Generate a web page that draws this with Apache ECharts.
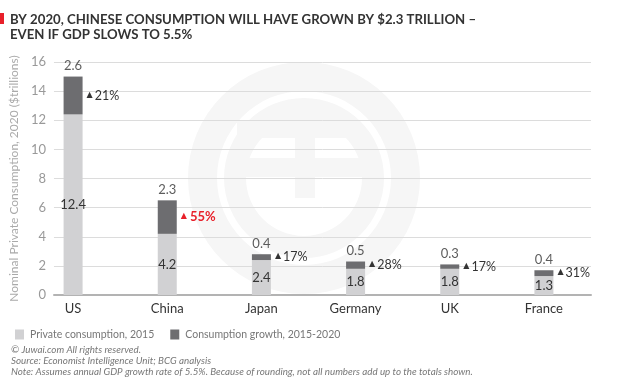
<!DOCTYPE html>
<html><head><meta charset="utf-8">
<script src="https://cdn.jsdelivr.net/npm/echarts@6/dist/echarts.min.js"></script>
<style>html,body{margin:0;padding:0;background:#fff}#c{width:619px;height:380px}</style>
</head><body><div id="c"></div>
<script>
const categories = ['US', 'China', 'Japan', 'Germany', 'UK', 'France'];
const base2015 = [12.4, 4.2, 2.4, 1.8, 1.8, 1.3];
const growth = [2.6, 2.3, 0.4, 0.5, 0.3, 0.4];
const growthPct = [21, 55, 17, 28, 17, 31];
const highlight = [false, true, false, false, false, false];
const yTicks = {min: 0, max: 16, interval: 2};
const totals = base2015.map((v, i) => +(v + growth[i]).toFixed(1));

const chart = echarts.init(document.getElementById('c'), null, {renderer: 'canvas'});
const FONT = 'Lato';
const wmColor = '#f6f6f6';
const cx = 304, cy = 178;
chart.setOption({
  animation: false,
  textStyle: {fontFamily: FONT},
  graphic: [
    {type: 'rect', left: 0, top: 13, shape: {width: 4, height: 11}, style: {fill: '#e8202a'}, z: 10},
    {type: 'text', left: 10, top: 12, z: 10, style: {text: 'BY 2020, CHINESE CONSUMPTION WILL HAVE GROWN BY $2.3 TRILLION –\nEVEN IF GDP SLOWS TO 5.5%', font: 'bold 13.2px Lato', fill: '#333', lineHeight: 15}},
    {type: 'text', left: 11, top: 345, z: 10, style: {text: '© Juwai.com All rights reserved.\nSource: Economist Intelligence Unit; BCG analysis\nNote: Assumes annual GDP growth rate of 5.5%. Because of rounding, not all numbers add up to the totals shown.', font: 'italic 9.8px Lato', fill: '#777', lineHeight: 10.6}},
    {type: 'ring', z: -10, shape: {cx: cx, cy: cy, r: 116, r0: 87}, style: {fill: wmColor}},
    {type: 'ring', z: -10, shape: {cx: cx, cy: cy, r: 80, r0: 58}, style: {fill: wmColor}},
    {type: 'rect', z: -10, shape: {x: cx - 67, y: cy - 58, width: 123, height: 18}, style: {fill: wmColor}},
    {type: 'rect', z: -10, shape: {x: cx - 67, y: cy - 20, width: 134, height: 19}, style: {fill: wmColor}},
    {type: 'rect', z: -10, shape: {x: cx - 9, y: cy - 40, width: 20, height: 60}, style: {fill: wmColor}}
  ],
  legend: {
    left: 10, top: 324, itemWidth: 9, itemHeight: 10, itemGap: 16,
    icon: 'rect',
    data: ['Private consumption, 2015', 'Consumption growth, 2015-2020'],
    textStyle: {fontSize: 10.5, color: '#777', fontFamily: FONT, padding: [0, 0, 0, 1]}
  },
  grid: [
    {left: 26, right: 28, top: 62, bottom: 85},
    {left: 48, right: 28, top: 62, bottom: 85}
  ],
  xAxis: [
    {type: 'category', gridIndex: 0, data: categories, axisLine: {show: false}, axisTick: {show: false},
     axisLabel: {color: '#333', fontSize: 13, margin: 7, fontFamily: FONT}},
    {type: 'value', gridIndex: 1, min: 0, max: 1, axisLine: {show: true, lineStyle: {color: '#b3b3b3', width: 2}},
     axisTick: {show: false}, axisLabel: {show: false}, splitLine: {show: false}}
  ],
  yAxis: [
    {type: 'value', gridIndex: 0, min: yTicks.min, max: yTicks.max, interval: yTicks.interval, show: false, splitLine: {show: false}},
    {type: 'value', gridIndex: 1, min: yTicks.min, max: yTicks.max, interval: yTicks.interval,
     axisLine: {show: false}, axisTick: {show: false},
     axisLabel: {color: '#999', fontSize: 13, margin: 8, fontFamily: FONT},
     splitLine: {lineStyle: {color: '#dcdcdc', width: 1}},
     name: 'Nominal Private Consumption, 2020 ($trillions)', nameLocation: 'middle', nameGap: 21,
     nameTextStyle: {color: '#aaa', fontSize: 12, fontFamily: FONT}}
  ],
  series: [
    {name: 'Private consumption, 2015', type: 'bar', stack: 's', xAxisIndex: 0, yAxisIndex: 0,
     barWidth: 19, data: base2015, itemStyle: {color: '#d1d1d3'},
     label: {show: true, position: 'inside', color: '#333', fontSize: 13, fontFamily: FONT}},
    {name: 'Consumption growth, 2015-2020', type: 'bar', stack: 's', xAxisIndex: 0, yAxisIndex: 0,
     barWidth: 19, data: growth, itemStyle: {color: '#6d6d70'},
     label: {show: true, position: 'right', distance: 4,
       formatter: p => highlight[p.dataIndex] ? '{tr|▲} {vr|' + growthPct[p.dataIndex] + '%}' : '{t|▲}{v|' + growthPct[p.dataIndex] + '%}',
       rich: {
         t: {fontSize: 8, color: '#333', padding: [0, 2, 2, 0], fontFamily: 'DejaVu Sans'},
         v: {fontSize: 12.5, color: '#333', fontFamily: FONT},
         tr: {fontSize: 8, color: '#e8202a', padding: [0, 0, 2, 0], fontFamily: 'DejaVu Sans'},
         vr: {fontSize: 13, color: '#e8202a', fontWeight: 'bold', fontFamily: FONT}
       }}},
    {name: 'totals', type: 'scatter', xAxisIndex: 0, yAxisIndex: 0, symbolSize: 0, data: totals,
     label: {show: true, position: 'top', distance: 4, color: '#333', fontSize: 13, fontFamily: FONT,
       formatter: p => growth[p.dataIndex].toFixed(1)}}
  ]
});
</script></body></html>
